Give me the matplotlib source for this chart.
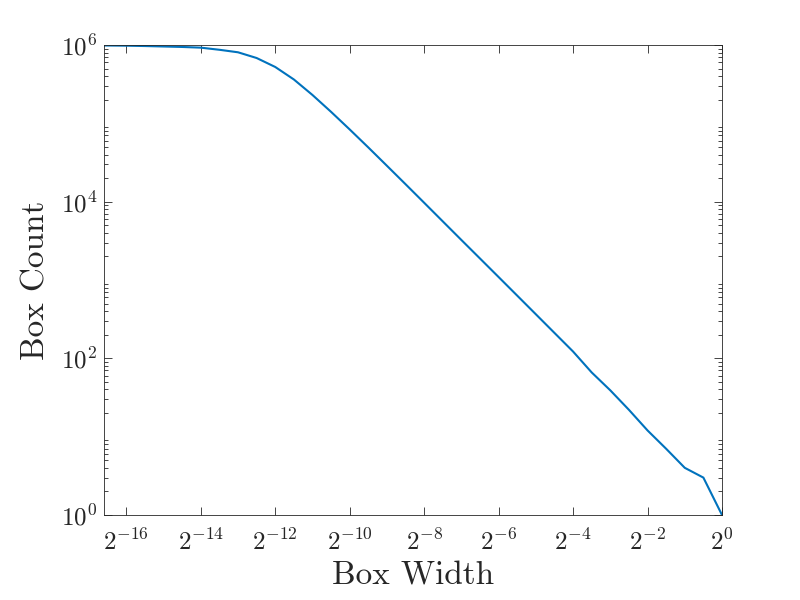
import matplotlib
matplotlib.use("Agg")
import matplotlib.pyplot as plt
from matplotlib.ticker import FixedLocator, LogLocator, NullFormatter, NullLocator

# Datos: exponente en base 2 del ancho de caja y conteo
exp_ancho = [-16.6, -16.0, -15.5, -15.0, -14.5, -14.0, -13.5, -13.0, -12.5, -12.0,
             -11.5, -11.0, -10.5, -10.0, -9.5, -9.0, -8.5, -8.0, -7.5, -7.0,
             -6.5, -6.0, -5.5, -5.0, -4.5, -4.0, -3.5, -3.0, -2.5, -2.0,
             -1.5, -1.0, -0.5, 0.0]
conteo = [986000, 980000, 970000, 957000, 944000, 925000, 869000, 807000, 682000, 524000,
          363000, 230000, 140000, 83500, 49200, 28700, 16700, 9680, 5600, 3240,
          1880, 1090, 631, 365, 211, 122, 66, 39, 22, 12,
          7, 4, 3, 1]

xticks_exp = [-16, -14, -12, -10, -8, -6, -4, -2, 0]
yticks_exp = [0, 2, 4, 6]

plt.rcParams['mathtext.fontset'] = 'cm'
plt.rcParams['font.family'] = ['cmr10', 'DejaVu Serif']
plt.rcParams['axes.unicode_minus'] = False

gris = '#262626'
anchos = [2.0 ** e for e in exp_ancho]

fig = plt.figure(figsize=(8, 6), dpi=100)
ax = fig.add_axes([0.13, 0.1417, 0.7725, 0.7833])
ax.plot(anchos, conteo, color='#0072BD', linewidth=1.5, solid_joinstyle='miter')

ax.set_xscale('log', base=2)
ax.set_yscale('log')
ax.set_xlim(anchos[0], 1)
ax.set_ylim(1, 1e6)

ax.xaxis.set_major_locator(FixedLocator([2.0 ** e for e in xticks_exp]))
ax.set_xticklabels([r'$2^{%d}$' % e for e in xticks_exp])
ax.xaxis.set_minor_locator(NullLocator())
ax.yaxis.set_major_locator(FixedLocator([10.0 ** e for e in yticks_exp]))
ax.set_yticklabels([r'$10^{%d}$' % e for e in yticks_exp])
ax.yaxis.set_minor_locator(LogLocator(base=10, subs=range(2, 10), numticks=20))
ax.yaxis.set_minor_formatter(NullFormatter())

ax.tick_params(which='both', direction='in', top=True, right=True,
               colors=gris, labelsize=18, width=0.6)
ax.tick_params(which='major', length=6)
ax.tick_params(which='minor', length=3)
ax.tick_params(axis='x', which='major', pad=10)
ax.tick_params(axis='y', which='major', pad=5)
for s in ax.spines.values():
    s.set_color(gris)
    s.set_linewidth(0.6)

ax.set_xlabel('Box Width', fontsize=24, color=gris, labelpad=5)
ax.set_ylabel('Box Count', fontsize=24, color=gris, labelpad=7)

fig.savefig('out.png', dpi=100)
